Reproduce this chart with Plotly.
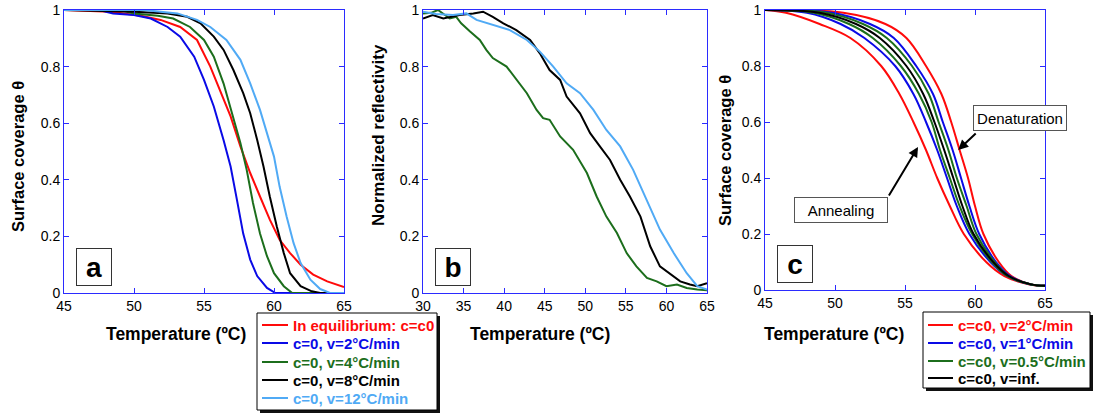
import plotly.graph_objects as go

W, H = 1094, 414
FONT = "Arial, 'Liberation Sans', sans-serif"
AXBLUE = "#2b2bff"
RED, BLUE, GREEN, BLACK, LBLUE = "#ff0a0a", "#0a0ae6", "#1c6e1c", "#000000", "#50aaf5"

# ---------------- Panel a data ----------------
a_eq_T = [45, 48.3, 50.5, 51.9, 53.3, 54.5, 55.45, 56.2, 56.9, 57.6, 58.3, 59.0, 59.7, 60.4, 61.15, 61.9, 62.8, 63.8, 65]
a_eq_th = [1.0, 0.994, 0.98, 0.965, 0.94, 0.894, 0.80, 0.706, 0.624, 0.518, 0.424, 0.341, 0.259, 0.188, 0.141, 0.10, 0.065, 0.041, 0.021]
a_v2_T = [45, 47.5, 48.5, 50, 51.2, 52.4, 53.3, 54.3, 55.0, 55.7, 56.4, 56.9, 57.35, 57.8, 58.3, 58.8, 59.5, 60.1, 65]
a_v2_th = [1.0, 1.0, 0.988, 0.982, 0.97, 0.94, 0.906, 0.835, 0.753, 0.659, 0.54, 0.447, 0.33, 0.21, 0.118, 0.06, 0.018, 0.0, 0.0]
a_v4_T = [45, 49, 50, 51.7, 52.8, 54.0, 55.0, 55.7, 56.4, 57.1, 57.6, 58.05, 58.5, 59.0, 59.5, 60.0, 60.7, 61.3, 65]
a_v4_th = [1.0, 1.0, 0.988, 0.98, 0.97, 0.94, 0.894, 0.835, 0.74, 0.62, 0.53, 0.435, 0.318, 0.21, 0.13, 0.07, 0.024, 0.0, 0.0]
a_v8_T = [45, 50, 52.4, 53.8, 54.75, 55.7, 56.4, 57.1, 57.8, 58.3, 58.8, 59.25, 59.7, 60.2, 60.7, 61.15, 61.9, 62.7, 63.3, 65]
a_v8_th = [1.0, 0.994, 0.988, 0.976, 0.953, 0.906, 0.859, 0.788, 0.706, 0.635, 0.541, 0.447, 0.341, 0.235, 0.141, 0.07, 0.024, 0.006, 0.0, 0.0]
a_v12_T = [45, 50.7, 53.1, 54.5, 55.45, 56.6, 57.6, 58.3, 59.0, 59.5, 60.0, 60.4, 60.9, 61.4, 61.9, 62.6, 63.3, 64.0, 65]
a_v12_th = [1.0, 1.0, 0.988, 0.965, 0.94, 0.894, 0.824, 0.741, 0.647, 0.565, 0.482, 0.376, 0.27, 0.176, 0.106, 0.047, 0.014, 0.0, 0.0]
a_names = ["In equilibrium: c=c0", "c=0, v=2°C/min", "c=0, v=4°C/min", "c=0, v=8°C/min", "c=0, v=12°C/min"]

# ---------------- Panel b data ----------------
b_v4_T = [30, 31, 31.85, 32.5, 33.3, 34.1, 34.7, 35.8, 37, 37.8, 38.6, 40.3, 41.5, 42.8, 44, 44.8, 45.6, 46.9, 48.5,
          50.2, 51.4, 52.6, 53.9, 55.1, 56.3, 57.6, 58.8, 60, 61.3, 62.5, 63.8, 65]
b_v4_r = [0.988, 0.99, 1.0, 0.986, 0.97, 0.976, 0.953, 0.924, 0.894, 0.859, 0.83, 0.80, 0.753, 0.706, 0.647, 0.618, 0.612,
          0.553, 0.506, 0.424, 0.341, 0.27, 0.212, 0.141, 0.094, 0.053, 0.041, 0.024, 0.03, 0.018, 0.012, 0.01]
b_v8_T = [30, 31.2, 32.5, 34.5, 36.2, 37.4, 38.6, 39.9, 41.5, 43.2, 44.4, 45.6, 46.9, 47.7, 49.35, 50.6, 51.8, 53.05,
          54.3, 55.5, 56.8, 58, 59.2, 60.5, 61.7, 62.9, 63.8, 65]
b_v8_r = [0.97, 0.982, 0.97, 0.982, 0.988, 0.994, 0.976, 0.953, 0.929, 0.894, 0.847, 0.788, 0.753, 0.694, 0.635, 0.565,
          0.518, 0.47, 0.40, 0.341, 0.27, 0.165, 0.094, 0.065, 0.041, 0.03, 0.024, 0.035]
b_v12_T = [30, 31.6, 33.7, 35.35, 36.6, 38.6, 40.7, 42.8, 44.4, 46.05, 47.7, 49.35, 51, 52.6, 54.3, 55.9, 57.6, 59.2,
           60.9, 62.5, 63.8, 65]
b_v12_r = [0.994, 0.986, 0.982, 0.988, 0.965, 0.947, 0.929, 0.894, 0.853, 0.80, 0.741, 0.706, 0.647, 0.576, 0.518,
           0.435, 0.329, 0.224, 0.141, 0.07, 0.024, 0.012]

# ---------------- Panel c data ----------------
c_theta = [1.0, 0.99, 0.95, 0.9, 0.8, 0.7, 0.6, 0.5, 0.4, 0.3, 0.2, 0.1, 0.05, 0.02, 0.015]
c_v2_ann_T = [45, 46.5, 48.9, 51.1, 53.3, 54.6, 55.6, 56.5, 57.3, 58.2, 59.2, 60.8, 62.1, 63.9, 65]
c_v2_den_T = [45, 50.6, 53.6, 55.1, 56.5, 57.6, 58.3, 58.9, 59.5, 60.0, 60.6, 61.7, 62.6, 64.0, 65]
c_v1_ann_T = [45, 48.0, 50.4, 52.1, 54.3, 55.6, 56.5, 57.3, 58.0, 58.7, 59.6, 61.1, 62.3, 63.9, 65]
c_v1_den_T = [45, 49.8, 52.5, 54.2, 55.8, 57.0, 57.7, 58.4, 59.0, 59.6, 60.3, 61.5, 62.5, 64.0, 65]
c_v05_ann_T = [45, 48.5, 51.0, 52.7, 54.7, 56.0, 56.9, 57.5, 58.2, 58.9, 59.8, 61.2, 62.3, 64.0, 65]
c_v05_den_T = [45, 49.4, 52.0, 53.7, 55.5, 56.7, 57.4, 58.1, 58.7, 59.4, 60.1, 61.4, 62.4, 64.0, 65]
c_vinf_T = [45, 48.9, 51.5, 53.2, 55.1, 56.3, 57.1, 57.8, 58.45, 59.1, 59.9, 61.3, 62.4, 64.0, 65]
c_names = ["c=c0, v=2°C/min", "c=c0, v=1°C/min", "c=c0, v=0.5°C/min", "c=c0, v=inf."]

# tick values
x_ticks_ac = [45, 50, 55, 60, 65]
x_ticks_b = [30, 35, 40, 45, 50, 55, 60, 65]
y_ticks = [0, 0.2, 0.4, 0.6, 0.8, 1]
y_ticktext = ["0", "0.2", "0.4", "0.6", "0.8", "1"]


def px(x):
    return x / W


def py(y):
    return 1 - y / H


fig = go.Figure()
LW = 2

a_series = [(a_eq_T, a_eq_th, RED), (a_v2_T, a_v2_th, BLUE), (a_v4_T, a_v4_th, GREEN),
            (a_v8_T, a_v8_th, BLACK), (a_v12_T, a_v12_th, LBLUE)]
for (T, th, col), name in zip(a_series, a_names):
    fig.add_trace(go.Scatter(x=T, y=th, mode="lines", line=dict(color=col, width=LW),
                             name=name, showlegend=False, xaxis="x", yaxis="y"))

for T, r, col, name in [(b_v4_T, b_v4_r, GREEN, a_names[2]), (b_v8_T, b_v8_r, BLACK, a_names[3]),
                        (b_v12_T, b_v12_r, LBLUE, a_names[4])]:
    fig.add_trace(go.Scatter(x=T, y=r, mode="lines", line=dict(color=col, width=LW),
                             name=name, showlegend=False, xaxis="x2", yaxis="y2"))

c_series = [(c_v2_ann_T, RED, 0), (c_v2_den_T, RED, 0), (c_v1_ann_T, BLUE, 1), (c_v1_den_T, BLUE, 1),
            (c_v05_ann_T, GREEN, 2), (c_v05_den_T, GREEN, 2), (c_vinf_T, BLACK, 3)]
for T, col, k in c_series:
    fig.add_trace(go.Scatter(x=T, y=c_theta, mode="lines",
                             line=dict(color=col, width=LW, shape="spline", smoothing=1.0),
                             name=c_names[k], showlegend=False, xaxis="x3", yaxis="y3"))

TICKFONT = dict(family=FONT, size=14, color="black")


def xax(domain, rng, ticks, anchor):
    return dict(domain=domain, range=rng, tickvals=ticks, ticktext=[str(t) for t in ticks],
                ticks="inside", ticklen=5, tickcolor=AXBLUE, tickwidth=1, showline=True,
                linecolor=AXBLUE, linewidth=1, mirror="ticks", showgrid=False, zeroline=False,
                tickfont=TICKFONT, anchor=anchor, automargin=False, ticklabeloverflow="allow")


def yax(domain, anchor):
    return dict(domain=domain, range=[0, 1], tickvals=y_ticks, ticktext=y_ticktext,
                ticks="inside", ticklen=5, tickcolor=AXBLUE, tickwidth=1, showline=True,
                linecolor=AXBLUE, linewidth=1, mirror="ticks", showgrid=False, zeroline=False,
                tickfont=TICKFONT, anchor=anchor, automargin=False, ticklabeloverflow="allow")


fig.update_layout(
    width=W, height=H, template="none",
    paper_bgcolor="white", plot_bgcolor="white",
    margin=dict(l=0, r=0, t=0, b=0), showlegend=False,
    xaxis=xax([px(64), px(344)], [45, 65], x_ticks_ac, "y"),
    yaxis=yax([py(293), py(10)], "x"),
    xaxis2=xax([px(423), px(707)], [30, 65], x_ticks_b, "y2"),
    yaxis2=yax([py(293), py(10)], "x2"),
    xaxis3=xax([px(765), px(1045)], [45, 65], x_ticks_ac, "y3"),
    yaxis3=yax([py(290), py(10)], "x3"),
)

shapes = []
ann = []


def key_box(x0, y0, x1, y1, rows_y, line_x0, line_x1, text_x, cols, names):
    shapes.append(dict(type="rect", xref="paper", yref="paper", x0=px(x0 + 3), x1=px(x1 + 3),
                       y0=py(y1 + 3), y1=py(y0 + 3), fillcolor="#111111", line=dict(width=0)))
    shapes.append(dict(type="rect", xref="paper", yref="paper", x0=px(x0), x1=px(x1),
                       y0=py(y1), y1=py(y0), fillcolor="white", line=dict(color="black", width=1)))
    for yy, col, name in zip(rows_y, cols, names):
        shapes.append(dict(type="line", xref="paper", yref="paper", x0=px(line_x0), x1=px(line_x1),
                           y0=py(yy), y1=py(yy), line=dict(color=col, width=2)))
        ann.append(dict(x=px(text_x), y=py(yy), xref="paper", yref="paper", text=f"<b>{name}</b>",
                        showarrow=False, xanchor="left", yanchor="middle",
                        font=dict(family=FONT, size=15, color=col)))


key_box(257, 313, 437, 410, [325, 343, 362, 380, 398], 262, 288, 291,
        [RED, BLUE, GREEN, BLACK, LBLUE], a_names)
key_box(923, 312, 1090, 388, [325, 343, 361, 378], 928, 953, 956,
        [RED, BLUE, GREEN, BLACK], c_names)

# axis titles
for cx, cy, txt in [(176, 334, "Temperature (ºC)"), (540, 334, "Temperature (ºC)"), (834, 334, "Temperature (ºC)")]:
    ann.append(dict(x=px(cx), y=py(cy), xref="paper", yref="paper", text=f"<b>{txt}</b>", showarrow=False,
                    font=dict(family=FONT, size=17.5, color="black"), xanchor="center", yanchor="middle"))
for cx, cy, txt, sz in [(18, 157, "Surface coverage θ", 16.5), (378, 135, "Normalized reflectivity", 17),
                        (725, 151, "Surface coverage θ", 16.5)]:
    ann.append(dict(x=px(cx), y=py(cy), xref="paper", yref="paper", text=f"<b>{txt}</b>", showarrow=False,
                    textangle=-90, font=dict(family=FONT, size=sz, color="black"),
                    xanchor="center", yanchor="middle"))
# panel letters
for cx, cy, txt in [(94, 267, "a"), (453, 267, "b"), (794.5, 264, "c")]:
    ann.append(dict(x=px(cx), y=py(cy), xref="paper", yref="paper", text=f"<b>{txt}</b>", showarrow=False,
                    font=dict(family=FONT, size=28, color="black"), width=32, height=34,
                    bordercolor="#333333", borderwidth=1, bgcolor="white", borderpad=1,
                    xanchor="center", yanchor="middle"))
# text boxes
for cx, cy, txt in [(1019.5, 118, "Denaturation"), (841, 210, "Annealing")]:
    ann.append(dict(x=px(cx), y=py(cy), xref="paper", yref="paper", text=txt, showarrow=False,
                    font=dict(family=FONT, size=15, color="black"), width=90, height=22,
                    bordercolor="#555555", borderwidth=1, bgcolor="white", borderpad=1,
                    xanchor="center", yanchor="middle"))
# arrows (heads given in panel c data coordinates)
ann.append(dict(x=58.8, y=0.5, xref="x3", yref="y3", text="", showarrow=True, ax=19, ay=-18,
                arrowhead=2, arrowsize=1, arrowwidth=2, arrowcolor="black"))
ann.append(dict(x=55.93, y=0.511, xref="x3", yref="y3", text="", showarrow=True, ax=-30, ay=50,
                arrowhead=2, arrowsize=1, arrowwidth=2, arrowcolor="black"))

fig.update_layout(shapes=shapes, annotations=ann)
fig.write_html("out.html", config={"displayModeBar": False},
               post_script="document.body.style.margin='0';document.body.style.overflow='hidden';")
